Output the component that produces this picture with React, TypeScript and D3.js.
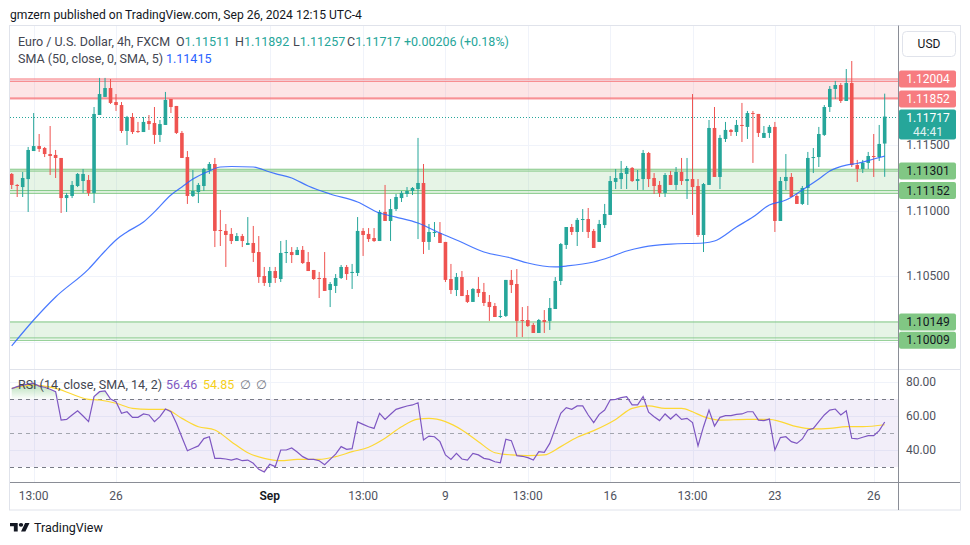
import React from 'react';
import * as d3 from 'd3';

// ---- Candles (EUR/USD 4h) ----
const open = [1.11279,1.11195,1.11179,1.11240,1.11454,1.11492,1.11477,1.11431,1.11424,1.11401,
1.11095,1.11111,1.11187,1.11225,1.11233,1.11134,1.11729,1.11867,1.11935,1.11828,
1.11805,1.11607,1.11714,1.11607,1.11599,1.11683,1.11668,1.11577,1.11653,1.11851,
1.11798,1.11592,1.11408,1.11111,1.11141,1.11187,1.11309,1.11355,1.10851,1.10844,
1.10821,1.10767,1.10805,1.10737,1.10752,1.10683,1.10500,1.10447,1.10538,1.10477,
1.10676,1.10683,1.10660,1.10699,1.10607,1.10546,1.10485,1.10485,1.10393,1.10424,
1.10485,1.10569,1.10523,1.10523,1.10844,1.10821,1.10790,1.10767,1.10989,1.10920,
1.11011,1.11095,1.11126,1.11149,1.11164,1.11210,1.10760,1.10828,1.10828,1.10760,
1.10477,1.10393,1.10492,1.10355,1.10302,1.10401,1.10378,1.10302,1.10271,1.10187,
1.10195,1.10470,1.10439,1.10164,1.10164,1.10126,1.10065,1.10164,1.10157,1.10248,
1.10462,1.10737,1.10874,1.10836,1.10928,1.10935,1.10844,1.10760,1.10889,1.10966,
1.11218,1.11240,1.11279,1.11325,1.11225,1.11240,1.11439,1.11248,1.11195,1.11134,
1.11271,1.11195,1.11294,1.11225,1.11240,1.11187,1.10813,1.11195,1.11630,1.11256,
1.11546,1.11615,1.11599,1.11653,1.11638,1.11744,1.11737,1.11554,1.11592,1.11638,
1.10920,1.11225,1.11256,1.11111,1.11050,1.11172,1.11401,1.11408,1.11577,1.11790,
1.11928,1.11958,1.11836,1.11973,1.11347,1.11317,1.11363,1.11416,1.11408,1.11511];
const high = [1.11286,1.11202,1.11294,1.11485,1.11744,1.11584,1.11485,1.11645,1.11462,1.11401,
1.11134,1.11225,1.11286,1.11317,1.11271,1.11790,1.12012,1.12012,1.12004,1.11889,
1.11828,1.11722,1.11744,1.11676,1.11714,1.11729,1.11790,1.11691,1.11905,1.11851,
1.11798,1.11607,1.11454,1.11309,1.11210,1.11325,1.11370,1.11401,1.11004,1.10897,
1.10866,1.10828,1.10821,1.10950,1.10882,1.10805,1.10569,1.10569,1.10569,1.10767,
1.10775,1.10721,1.10721,1.10729,1.10683,1.10546,1.10531,1.10683,1.10454,1.10515,
1.10584,1.10584,1.10592,1.10950,1.10866,1.10866,1.10866,1.11004,1.11195,1.11088,
1.11126,1.11149,1.11179,1.11179,1.11554,1.11355,1.10897,1.10912,1.10912,1.10760,
1.10592,1.10523,1.10538,1.10393,1.10408,1.10492,1.10447,1.10355,1.10294,1.10240,
1.10470,1.10546,1.10553,1.10263,1.10271,1.10141,1.10172,1.10240,1.10332,1.10492,
1.10752,1.10874,1.10897,1.10943,1.11011,1.11019,1.10859,1.10928,1.11050,1.11263,
1.11317,1.11378,1.11340,1.11332,1.11309,1.11462,1.11447,1.11286,1.11225,1.11286,
1.11302,1.11332,1.11401,1.11401,1.11889,1.11240,1.11210,1.11691,1.11790,1.11577,
1.11676,1.11622,1.11691,1.11821,1.11760,1.11760,1.11737,1.11645,1.11653,1.11676,
1.11256,1.11431,1.11286,1.11134,1.11187,1.11447,1.11477,1.11638,1.11805,1.11950,
1.11989,1.11973,1.12080,1.12141,1.11386,1.11386,1.11447,1.11584,1.11653,1.11892];
const low = [1.11164,1.11103,1.11103,1.10989,1.11454,1.11447,1.11408,1.11271,1.11248,1.10981,
1.10989,1.11095,1.11179,1.11134,1.11111,1.11057,1.11729,1.11867,1.11813,1.11760,
1.11592,1.11500,1.11584,1.11592,1.11599,1.11615,1.11508,1.11523,1.11653,1.11744,
1.11584,1.11401,1.11050,1.11103,1.11057,1.11149,1.11279,1.10721,1.10729,1.10569,
1.10744,1.10767,1.10721,1.10737,1.10607,1.10447,1.10424,1.10416,1.10447,1.10454,
1.10599,1.10599,1.10660,1.10592,1.10538,1.10470,1.10332,1.10386,1.10263,1.10370,
1.10477,1.10470,1.10401,1.10500,1.10653,1.10760,1.10760,1.10767,1.10920,1.10767,
1.10996,1.11065,1.11103,1.11118,1.10782,1.10668,1.10699,1.10798,1.10752,1.10454,
1.10363,1.10347,1.10347,1.10294,1.10302,1.10340,1.10271,1.10157,1.10187,1.10179,
1.10187,1.10370,1.10034,1.10034,1.10111,1.10065,1.10065,1.10065,1.10088,1.10248,
1.10431,1.10706,1.10813,1.10729,1.10836,1.10790,1.10714,1.10760,1.10866,1.10966,
1.11164,1.11164,1.11164,1.11218,1.11157,1.11157,1.11179,1.11126,1.11103,1.11103,
1.11195,1.11157,1.11195,1.11088,1.10966,1.10798,1.10683,1.11195,1.11256,1.11164,
1.11523,1.11569,1.11569,1.11523,1.11546,1.11363,1.11561,1.11554,1.11554,1.10836,
1.10920,1.11157,1.11103,1.11050,1.11042,1.11042,1.11286,1.11332,1.11569,1.11752,
1.11851,1.11821,1.11836,1.11332,1.11218,1.11286,1.11317,1.11256,1.11378,1.11257];
const close = [1.11195,1.11187,1.11248,1.11462,1.11492,1.11470,1.11431,1.11416,1.11401,1.11095,
1.11118,1.11195,1.11279,1.11279,1.11134,1.11737,1.11889,1.11935,1.11821,1.11805,
1.11607,1.11714,1.11599,1.11599,1.11676,1.11660,1.11577,1.11660,1.11844,1.11790,
1.11592,1.11401,1.11111,1.11149,1.11195,1.11317,1.11355,1.10844,1.10844,1.10813,
1.10767,1.10805,1.10767,1.10752,1.10676,1.10492,1.10447,1.10538,1.10485,1.10676,
1.10683,1.10660,1.10699,1.10599,1.10538,1.10477,1.10477,1.10386,1.10439,1.10485,
1.10569,1.10515,1.10531,1.10844,1.10813,1.10782,1.10767,1.10989,1.10920,1.11011,
1.11103,1.11134,1.11149,1.11172,1.11210,1.10760,1.10836,1.10836,1.10752,1.10470,
1.10393,1.10492,1.10347,1.10302,1.10401,1.10370,1.10294,1.10263,1.10187,1.10195,
1.10470,1.10431,1.10157,1.10157,1.10118,1.10065,1.10164,1.10149,1.10256,1.10462,
1.10744,1.10874,1.10836,1.10928,1.10935,1.10836,1.10714,1.10897,1.10973,1.11225,
1.11248,1.11286,1.11325,1.11225,1.11240,1.11439,1.11240,1.11187,1.11134,1.11271,
1.11195,1.11294,1.11225,1.11240,1.11179,1.10813,1.11202,1.11630,1.11256,1.11554,
1.11615,1.11599,1.11653,1.11645,1.11744,1.11737,1.11592,1.11592,1.11638,1.10920,
1.11225,1.11256,1.11103,1.11050,1.11172,1.11401,1.11408,1.11584,1.11790,1.11928,
1.11958,1.11836,1.11973,1.11347,1.11317,1.11363,1.11416,1.11408,1.11508,1.11717];

// ---- SMA 50 (sampled at candle indices) ----
const smaIdx = [0,4,8,14,17,19,21,24,26,29,31,33,36,38,40,44,47,48,51,54,58,63,67,70,74,78,81,86,91,94,99,101,106,109,112,115,120,126,128,132,135,138,141,144,147,149,152,154,157,159];
const smaVal = [1.09966,1.10164,1.10340,1.10553,1.10691,1.10775,1.10836,1.10912,1.10989,1.11118,1.11179,1.11240,1.11302,1.11332,1.11336,1.11332,1.11294,1.11282,1.11248,1.11187,1.11126,1.11065,1.10981,1.10950,1.10905,1.10828,1.10775,1.10683,1.10637,1.10599,1.10569,1.10576,1.10607,1.10645,1.10691,1.10721,1.10744,1.10752,1.10767,1.10874,1.10950,1.11042,1.11080,1.11157,1.11240,1.11302,1.11347,1.11359,1.11393,1.11415];

// ---- RSI 14 ----
const rsi = [76.1,77.3,78.2,78.8,79.2,77.6,76.9,75.7,74.3,57.6,
58.0,60.6,63.1,60.0,56.7,71.4,74.3,74.7,70.0,68.4,
61.6,62.5,59.2,59.2,61.2,60.6,56.7,59.6,64.1,62.5,
55.7,47.5,39.6,41.0,42.4,46.7,47.8,35.1,35.1,34.7,
34.1,34.9,33.7,34.1,32.2,28.6,27.1,31.6,30.2,40.0,
40.0,41.2,38.8,36.1,34.5,34.5,33.7,31.4,34.5,37.6,
42.0,40.4,40.8,56.5,55.1,53.7,52.7,61.6,58.0,61.0,
63.9,64.9,65.9,66.5,67.8,45.9,48.2,47.8,44.9,37.1,
34.5,38.0,34.7,34.1,38.0,37.1,35.1,34.5,33.1,32.5,
46.3,45.5,36.7,36.3,35.5,34.1,39.0,38.6,43.9,52.7,
61.6,64.9,63.9,65.9,65.9,60.6,56.1,61.0,63.5,69.4,
69.8,70.8,71.4,66.5,66.5,71.4,62.2,59.6,57.3,61.2,
58.2,61.2,58.0,58.6,56.1,42.4,53.7,63.5,54.1,59.2,
60.2,60.2,61.0,61.2,62.5,62.5,57.6,57.3,58.2,40.0,
47.3,47.8,44.9,43.9,46.5,51.8,52.7,56.7,60.6,63.5,
64.1,60.6,63.1,46.9,46.5,47.5,48.4,48.4,51.4,56.46];
const rsiMaIdx = [0,4,8,14,16,19,22,25,28,31,34,37,40,43,46,49,52,56,59,62,65,68,71,74,76,79,82,85,88,91,94,97,100,103,106,110,113,116,119,122,124,126,129,134,138,140,143,146,149,152,155,159];
const rsiMaVal = [76.3,78.2,76.3,69.8,69.4,67.5,64.5,63.9,63.9,58.6,53.7,51.8,44.9,38.4,35.1,33.7,34.5,34.5,36.1,39.0,41.6,46.9,53.7,58.2,58.6,56.7,51.8,44.9,38.4,37.1,36.7,37.1,42.0,47.5,51.4,58.0,64.5,65.9,64.5,64.5,62.5,59.6,57.6,58.0,58.0,56.7,53.7,52.4,52.7,53.7,53.7,54.85];

// ---- Drawn zones / levels ----
const zoneTop = [1.12004, 1.11315, 1.10153];
const zoneBottom = [1.11852, 1.11131, 1.10027];
const zoneKind = ['red', 'green', 'green'];
const levels = [1.12004, 1.11986, 1.11859, 1.11852, 1.11315, 1.11301, 1.11152, 1.11131, 1.10149, 1.10027, 1.10009];
const levelKind = ['red','red','red','red','green','green','green','green','green','green','green'];
const labelLevels = [1.12004, 1.11852, 1.11301, 1.11152, 1.10149, 1.10009];
const labelKind = ['red','red','green','green','green','green'];

// ---- Axes ----
const priceTicks = [1.115, 1.110, 1.105];
const priceGrid = [1.120, 1.115, 1.110, 1.105, 1.100];
const rsiTicks = [80, 60, 40];
const timeIdx = [4, 19, 47, 64, 79, 94, 109, 124, 139, 157];
const timeLabels = ['13:00', '26', 'Sep', '13:00', '9', '13:00', '16', '13:00', '23', '26'];

const UP = '#26a69a';
const DOWN = '#ef5350';
const FONT = "Roboto, 'Noto Sans', 'DejaVu Sans', sans-serif";

export default function App() {
  const n = close.length;
  const x = d3.scaleLinear().domain([0, n - 1]).range([11.7, 884.7]);
  const y = d3.scaleLinear().domain([1.10, 1.12]).range([341.5, 79.5]);
  const yr = d3.scaleLinear().domain([40, 80]).range([450, 382]);

  const L = 10, R = 898, mainTop = 26, mainBot = 369, rsiTop = 370, rsiBot = 482;

  const smaLine = d3.line<number>()
    .x((_, i) => x(smaIdx[i]))
    .y((d) => y(d))
    .curve(d3.curveMonotoneX)(smaVal) || '';
  const rsiLine = d3.line<number>().x((_, i) => x(i)).y((d) => yr(d))(rsi) || '';
  const rsiMaLine = d3.line<number>()
    .x((_, i) => x(rsiMaIdx[i]))
    .y((d) => yr(d))
    .curve(d3.curveMonotoneX)(rsiMaVal) || '';
  const obArea = d3.area<number>().x((_, i) => x(i)).y0(yr(70)).y1((d) => yr(Math.max(d, 70)))(rsi) || '';
  const osArea = d3.area<number>().x((_, i) => x(i)).y0(yr(30)).y1((d) => yr(Math.min(d, 30)))(rsi) || '';

  const lineCol = (k: string) => (k === 'red' ? '#f77c80' : '#81c784');
  const fillCol = (k: string) => (k === 'red' ? 'rgba(247,124,128,0.2)' : 'rgba(129,199,132,0.2)');

  const last = close[n - 1];
  const lastUp = last >= open[n - 1];

  return (
    <svg width={970} height={545} style={{ position: 'absolute', left: 0, top: 0, background: '#fff' }} fontFamily={FONT}>
      <defs>
        <clipPath id="mainClip"><rect x={L} y={mainTop} width={R - L} height={mainBot - mainTop} /></clipPath>
        <clipPath id="rsiClip"><rect x={L} y={rsiTop} width={R - L} height={rsiBot - rsiTop} /></clipPath>
        <linearGradient id="obGrad" x1="0" x2="0" y1={yr(80)} y2={yr(70)} gradientUnits="userSpaceOnUse">
          <stop offset="0" stopColor="rgba(76,175,80,0.45)" />
          <stop offset="1" stopColor="rgba(76,175,80,0.02)" />
        </linearGradient>
        <linearGradient id="osGrad" x1="0" x2="0" y1={yr(30)} y2={yr(20)} gradientUnits="userSpaceOnUse">
          <stop offset="0" stopColor="rgba(242,54,69,0.02)" />
          <stop offset="1" stopColor="rgba(242,54,69,0.45)" />
        </linearGradient>
      </defs>
      <rect x={0} y={0} width={970} height={545} fill="#fff" />

      {/* header */}
      <text x={10} y={19} fontSize={12.1} fill="#131722">gmzern published on TradingView.com, Sep 26, 2024 12:15 UTC-4</text>

      {/* frame */}
      <rect x={9.5} y={25.5} width={951} height={484.5} fill="none" stroke="#e0e3eb" />

      {/* grid */}
      <g stroke="#f0f3fa" strokeWidth={1}>
        {priceGrid.map((p, i) => (
          <line key={'pg' + i} x1={L} x2={R} y1={Math.round(y(p)) + 0.5} y2={Math.round(y(p)) + 0.5} />
        ))}
        {rsiTicks.map((v, i) => (
          <line key={'rg' + i} x1={L} x2={R} y1={Math.round(yr(v)) + 0.5} y2={Math.round(yr(v)) + 0.5} />
        ))}
        {timeIdx.map((t, i) => (
          <line key={'tg' + i} x1={Math.round(x(t)) + 0.5} x2={Math.round(x(t)) + 0.5} y1={mainTop} y2={rsiBot} />
        ))}
      </g>

      {/* main pane */}
      <g clipPath="url(#mainClip)">
        {zoneTop.map((t, i) => (
          <rect key={'z' + i} x={L} width={R - L} y={y(t)} height={y(zoneBottom[i]) - y(t)} fill={fillCol(zoneKind[i])} />
        ))}
        {levels.map((p, i) => (
          <line key={'lv' + i} x1={L} x2={R} y1={y(p)} y2={y(p)} stroke={lineCol(levelKind[i])} strokeWidth={1} />
        ))}
        <line x1={L} x2={R} y1={Math.round(y(last)) + 0.5} y2={Math.round(y(last)) + 0.5} stroke={UP} strokeWidth={1} strokeDasharray="1,2" />
        {close.map((c, i) => {
          const o = open[i];
          const up = c >= o;
          const col = up ? UP : DOWN;
          const cx = x(i);
          const yTop = y(Math.max(o, c));
          const yBot = y(Math.min(o, c));
          return (
            <g key={'c' + i}>
              <line x1={cx} x2={cx} y1={y(high[i])} y2={y(low[i])} stroke={col} strokeWidth={1} />
              <rect x={cx - 1.8} width={3.6} y={yTop} height={Math.max(1, yBot - yTop)} fill={col} />
            </g>
          );
        })}
        <path d={smaLine} fill="none" stroke="#2962ff" strokeWidth={1.2} strokeOpacity={0.85} />
      </g>

      {/* pane separator */}
      <line x1={L} x2={960} y1={369.5} y2={369.5} stroke="#e0e3eb" />

      {/* RSI pane */}
      <g clipPath="url(#rsiClip)">
        <rect x={L} width={R - L} y={yr(70)} height={yr(30) - yr(70)} fill="rgba(126,87,194,0.1)" />
        <path d={obArea} fill="url(#obGrad)" />
        <path d={osArea} fill="url(#osGrad)" />
        {[70, 50, 30].map((v) => (
          <line key={'rl' + v} x1={L} x2={R} y1={Math.round(yr(v)) + 0.5} y2={Math.round(yr(v)) + 0.5}
            stroke={v === 50 ? '#a3a6af' : '#787b86'} strokeDasharray="4,4" strokeWidth={1} />
        ))}
        <path d={rsiMaLine} fill="none" stroke="#fdd835" strokeWidth={1.2} />
        <path d={rsiLine} fill="none" stroke="#7e57c2" strokeWidth={1.2} />
      </g>

      {/* axes lines */}
      <line x1={R + 0.5} x2={R + 0.5} y1={25.5} y2={510} stroke="#8a8d96" />
      <line x1={L} x2={960} y1={482.5} y2={482.5} stroke="#8a8d96" />

      {/* price axis */}
      <rect x={902.5} y={31.5} width={53} height={25} rx={4} fill="#fff" stroke="#e0e3eb" />
      <text x={929} y={48} fontSize={12} fill="#131722" textAnchor="middle">USD</text>
      {priceTicks.map((p, i) => (
        <text key={'pt' + i} x={928} y={y(p) + 4} fontSize={12} fill="#50535e" textAnchor="middle">{p.toFixed(5)}</text>
      ))}
      {labelLevels.map((p, i) => {
        const red = labelKind[i] === 'red';
        return (
          <g key={'lb' + i}>
            <rect x={899} y={y(p) - 8.5} width={57} height={17} rx={2} fill={red ? '#f77c80' : '#81c784'} />
            <text x={928} y={y(p) + 4} fontSize={12} fill={red ? '#fff' : '#131722'} textAnchor="middle">{p.toFixed(5)}</text>
          </g>
        );
      })}
      <rect x={899} y={y(last) - 7} width={57} height={30} rx={2} fill={lastUp ? UP : DOWN} />
      <text x={928} y={y(last) + 5} fontSize={12} fill="#fff" textAnchor="middle">{last.toFixed(5)}</text>
      <text x={928} y={y(last) + 19} fontSize={12} fill="#e0f2f1" textAnchor="middle">44:41</text>

      {/* rsi axis */}
      {rsiTicks.map((v, i) => (
        <text key={'rt' + i} x={921} y={yr(v) + 4} fontSize={12} fill="#50535e" textAnchor="middle">{v.toFixed(2)}</text>
      ))}

      {/* time axis */}
      {timeIdx.map((t, i) => (
        <text key={'tl' + i} x={x(t)} y={500} fontSize={12} fill={timeLabels[i] === 'Sep' ? '#131722' : '#50535e'}
          fontWeight={timeLabels[i] === 'Sep' ? 600 : 400} textAnchor="middle">{timeLabels[i]}</text>
      ))}

      {/* legends */}
      <g fontSize={12.5}>
        <text x={18} y={46} fill="#434651">Euro / U.S. Dollar, 4h, FXCM</text>
        <text x={176} y={46} fill="#434651">O<tspan fill={UP}>{open[n - 1].toFixed(5)}</tspan></text>
        <text x={235} y={46} fill="#434651">H<tspan fill={UP}>{high[n - 1].toFixed(5)}</tspan></text>
        <text x={293} y={46} fill="#434651">L<tspan fill={UP}>{low[n - 1].toFixed(5)}</tspan></text>
        <text x={347} y={46} fill="#434651">C<tspan fill={UP}>{last.toFixed(5)}</tspan></text>
        <text x={404} y={46} fill={UP}>+0.00206 (+0.18%)</text>
        <text x={18} y={63} fill="#434651">SMA (50, close, 0, SMA, 5)</text>
        <text x={166} y={63} fill="#2962ff">{smaVal[smaVal.length - 1].toFixed(5)}</text>
        <text x={18} y={389} fill="#434651">RSI (14, close, SMA, 14, 2)</text>
        <text x={166} y={389} fill="#7e57c2">{rsi[n - 1].toFixed(2)}</text>
        <text x={203} y={389} fill="#f5cf1b">{rsiMaVal[rsiMaVal.length - 1].toFixed(2)}</text>
        <text x={240} y={389} fill="#787b86">∅</text>
        <text x={256} y={389} fill="#787b86">∅</text>
      </g>

      {/* footer logo */}
      <g transform="translate(10,521) scale(0.55,0.48)" fill="#131722">
        <path d="M14 22H7V11H0V4h14v18z" />
        <path d="M28 22h-8l7.5-18h8L28 22z" />
        <circle cx={20} cy={8} r={4} />
      </g>
      <text x={34} y={532} fontSize={12.5} fill="#131722">TradingView</text>
    </svg>
  );
}
